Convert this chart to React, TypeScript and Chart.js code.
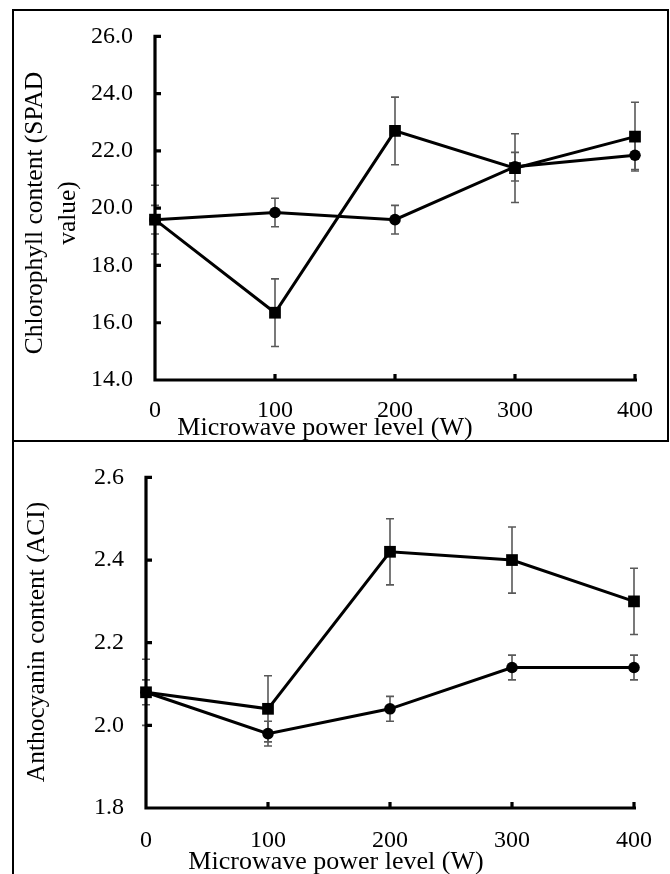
import React, { useEffect, useRef } from "react";
import { Chart, registerables } from "chart.js";

Chart.register(...registerables);

// ---------- data ----------
const powerLevels = [0, 100, 200, 300, 400];

const chlCircle = [19.6, 19.85, 19.6, 21.45, 21.85];
const chlCircleErr = [0.5, 0.5, 0.5, 0.5, 0.5];
const chlSquare = [19.6, 16.35, 22.7, 21.4, 22.5];
const chlSquareErr = [1.2, 1.18, 1.18, 1.2, 1.2];

const antCircle = [2.08, 1.98, 2.04, 2.14, 2.14];
const antCircleErr = [0.03, 0.03, 0.03, 0.03, 0.03];
const antSquare = [2.08, 2.04, 2.42, 2.4, 2.3];
const antSquareErr = [0.08, 0.08, 0.08, 0.08, 0.08];

const xTitle = "Microwave power level (W)";
const chlYTitle = ["Chlorophyll content (SPAD", "value)"];
const antYTitle = ["Anthocyanin content (ACI)"];

const serif = "'Liberation Serif', 'Times New Roman', serif";

// ---------- plugin: axes, error bars, titles ----------
const sciPlugin = {
  id: "sci",
  beforeDatasetsDraw(chart: any) {
    const ctx = chart.ctx;
    const xs = chart.scales.x;
    const ys = chart.scales.y;
    const ca = chart.chartArea;
    ctx.save();
    // error bars
    ctx.strokeStyle = "#595959";
    ctx.lineWidth = 1.6;
    chart.data.datasets.forEach((ds: any) => {
      const err = ds.err || [];
      ds.data.forEach((pt: any, i: number) => {
        const e = err[i];
        if (!e) return;
        const px = xs.getPixelForValue(pt.x);
        const y1 = ys.getPixelForValue(pt.y + e);
        const y2 = ys.getPixelForValue(pt.y - e);
        ctx.beginPath();
        ctx.moveTo(px, y1);
        ctx.lineTo(px, y2);
        ctx.moveTo(px - 4, y1);
        ctx.lineTo(px + 4, y1);
        ctx.moveTo(px - 4, y2);
        ctx.lineTo(px + 4, y2);
        ctx.stroke();
      });
    });
    // axes
    ctx.strokeStyle = "#000";
    ctx.lineWidth = 3.2;
    ctx.lineCap = "butt";
    ctx.beginPath();
    ctx.moveTo(ca.left, ys.getPixelForValue(ys.max) - 1.6);
    ctx.lineTo(ca.left, ca.bottom + 1.6);
    ctx.moveTo(ca.left - 1.6, ca.bottom);
    ctx.lineTo(ca.right + 2, ca.bottom);
    ys.ticks.forEach((t: any) => {
      const py = ys.getPixelForValue(t.value);
      ctx.moveTo(ca.left, py);
      ctx.lineTo(ca.left + 6, py);
    });
    xs.ticks.forEach((t: any) => {
      if (t.value === xs.min) return;
      const px = xs.getPixelForValue(t.value);
      ctx.moveTo(px, ca.bottom);
      ctx.lineTo(px, ca.bottom - 6);
    });
    ctx.stroke();
    ctx.restore();
  },
  afterDraw(chart: any, _args: any, opts: any) {
    const ctx = chart.ctx;
    ctx.save();
    ctx.fillStyle = "#000";
    ctx.font = `26px ${serif}`;
    ctx.textAlign = "center";
    ctx.textBaseline = "alphabetic";
    ctx.fillText(opts.xTitle, opts.xTitleX, opts.xTitleY);
    ctx.font = `25.5px ${serif}`;
    ctx.textBaseline = "middle";
    opts.yTitle.forEach((line: string, i: number) => {
      ctx.save();
      ctx.translate(opts.yTitleX[i], opts.yTitleY);
      ctx.rotate(-Math.PI / 2);
      ctx.fillText(line, 0, 0);
      ctx.restore();
    });
    ctx.restore();
  },
};

function makeConfig(p: any) {
  const tickFont = { family: serif, size: 24 };
  return {
    type: "line",
    data: {
      datasets: [
        {
          label: "circle",
          data: powerLevels.map((x, i) => ({ x, y: p.circle[i] })),
          err: p.circleErr,
          borderColor: "#000",
          backgroundColor: "#000",
          borderWidth: 3,
          pointStyle: "circle",
          pointRadius: 5.8,
          pointBorderWidth: 0,
          tension: 0,
          clip: false,
        },
        {
          label: "square",
          data: powerLevels.map((x, i) => ({ x, y: p.square[i] })),
          err: p.squareErr,
          borderColor: "#000",
          backgroundColor: "#000",
          borderWidth: 3,
          pointStyle: "rect",
          pointRadius: 8.3,
          pointBorderWidth: 0,
          tension: 0,
          clip: false,
        },
      ],
    },
    options: {
      animation: false,
      responsive: false,
      devicePixelRatio: 1,
      layout: { padding: { left: 0, top: p.padTop, right: p.padRight, bottom: 0 } },
      plugins: {
        legend: { display: false },
        tooltip: { enabled: false },
        sci: {
          xTitle,
          xTitleX: p.xTitleX,
          xTitleY: p.xTitleY,
          yTitle: p.yTitle,
          yTitleX: p.yTitleX,
          yTitleY: p.yTitleY,
        },
      },
      scales: {
        x: {
          type: "linear",
          min: 0,
          max: 400,
          afterFit: (s: any) => {
            s.height = p.xHeight;
          },
          ticks: { stepSize: 100, padding: p.xPad, color: "#000", font: tickFont, maxRotation: 0 },
          grid: { display: false, drawTicks: false },
          border: { display: false },
        },
        y: {
          type: "linear",
          min: p.yMin,
          max: p.yMax,
          afterFit: (s: any) => {
            s.width = p.yWidth;
          },
          ticks: {
            stepSize: p.yStep,
            padding: 22,
            color: "#000",
            font: tickFont,
            callback: (v: any) => Number(v).toFixed(1),
          },
          grid: { display: false, drawTicks: false },
          border: { display: false },
        },
      },
    },
    plugins: [sciPlugin],
  };
}

function ChartCanvas({ cfg, width, height, style }: any) {
  const ref = useRef<HTMLCanvasElement | null>(null);
  useEffect(() => {
    if (!ref.current) return;
    const chart = new Chart(ref.current, makeConfig(cfg) as any);
    return () => chart.destroy();
  }, []);
  return <canvas ref={ref} width={width} height={height} style={{ position: "absolute", ...style }} />;
}

const topCfg = {
  circle: chlCircle,
  circleErr: chlCircleErr,
  square: chlSquare,
  squareErr: chlSquareErr,
  yMin: 14,
  yMax: 26,
  yStep: 2,
  padTop: 33,
  padRight: 35,
  xHeight: 61,
  yWidth: 155,
  xPad: 16,
  xTitleX: 325,
  xTitleY: 435,
  yTitle: chlYTitle,
  yTitleX: [35, 68],
  yTitleY: 213,
};

const bottomCfg = {
  circle: antCircle,
  circleErr: antCircleErr,
  square: antSquare,
  squareErr: antSquareErr,
  yMin: 1.8,
  yMax: 2.6,
  yStep: 0.2,
  padTop: 23,
  padRight: 33,
  xHeight: 66,
  yWidth: 146,
  xPad: 18,
  xTitleX: 336,
  xTitleY: 428,
  yTitle: antYTitle,
  yTitleX: [37],
  yTitleY: 201,
};

export default function App() {
  return (
    <div style={{ position: "absolute", left: 0, top: 0, width: 670, height: 874, background: "#fff", overflow: "hidden" }}>
      <ChartCanvas cfg={topCfg} width={670} height={441} style={{ left: 0, top: 0 }} />
      <ChartCanvas cfg={bottomCfg} width={670} height={433} style={{ left: 0, top: 441 }} />
      <div style={{ position: "absolute", left: 12, top: 9, width: 657, height: 433, border: "2px solid #000", boxSizing: "border-box", pointerEvents: "none" }} />
      <div style={{ position: "absolute", left: 12, top: 441, width: 2, height: 433, background: "#000", pointerEvents: "none" }} />
    </div>
  );
}
